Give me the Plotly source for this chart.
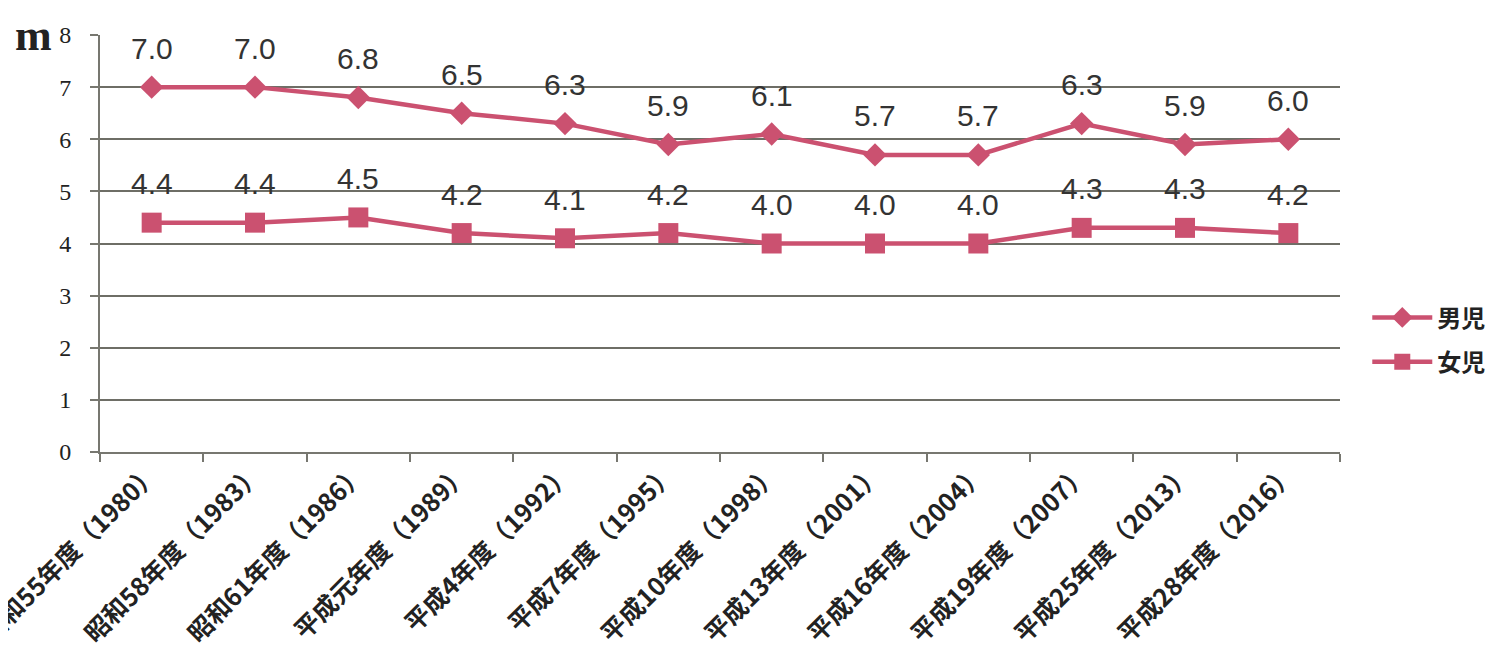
import plotly.graph_objects as go

categories = ["昭和55年度（1980）", "昭和58年度（1983）", "昭和61年度（1986）", "平成元年度（1989）",
              "平成4年度（1992）", "平成7年度（1995）", "平成10年度（1998）", "平成13年度（2001）",
              "平成16年度（2004）", "平成19年度（2007）", "平成25年度（2013）", "平成28年度（2016）"]
boys = [7.0, 7.0, 6.8, 6.5, 6.3, 5.9, 6.1, 5.7, 5.7, 6.3, 5.9, 6.0]
girls = [4.4, 4.4, 4.5, 4.2, 4.1, 4.2, 4.0, 4.0, 4.0, 4.3, 4.3, 4.2]
y_ticks = [0, 1, 2, 3, 4, 5, 6, 7, 8]

color = "#cb5170"
sans = "Noto Sans CJK JP"

fig = go.Figure()
fig.add_trace(go.Scatter(x=categories, y=boys, name="男児", mode="lines+markers",
                         legendgroup="a",
                         line=dict(color=color, width=4.5),
                         marker=dict(symbol="diamond", size=18, color=color)))
fig.add_trace(go.Scatter(x=categories, y=girls, name="女児", mode="lines+markers",
                         legendgroup="b",
                         line=dict(color=color, width=4.5),
                         marker=dict(symbol="square", size=20, color=color)))

for series in (boys, girls):
    for c, v in zip(categories, series):
        fig.add_annotation(x=c, y=v, text=f"{v:.1f}", showarrow=False, yshift=39,
                           font=dict(family="Liberation Sans", size=30, color="#333333"))

fig.add_annotation(xref="paper", yref="paper", x=-0.054, y=1.062, xanchor="center", yanchor="top",
                   text="<b>m</b>", showarrow=False,
                   font=dict(family="Liberation Serif", size=44, color="#222222"))

fig.update_layout(
    width=1497, height=652,
    margin=dict(l=92, r=165, t=27, b=208),
    paper_bgcolor="white", plot_bgcolor="white",
    showlegend=True,
    legend=dict(x=1.022, y=0.269, xanchor="left", yanchor="middle",
                font=dict(family=sans, size=24, color="#222222", weight="bold"),
                bgcolor="rgba(0,0,0,0)", tracegroupgap=10, traceorder="grouped", itemwidth=60),
    xaxis=dict(type="category", range=[-0.5, 11.5], showgrid=False, automargin=False,
               showline=True, linecolor="#777770", linewidth=2,
               ticks="outside", tickson="boundaries", ticklen=8, tickcolor="#777770", tickwidth=2,
               ticklabelstandoff=-5,
               tickangle=-45, tickfont=dict(family=sans, size=25, color="#222222", weight=600)),
    yaxis=dict(range=[0, 8], tickvals=y_ticks, showgrid=True, gridcolor="#6e6e66", gridwidth=2,
               showline=True, linecolor="#777770", linewidth=2, zeroline=False, automargin=False,
               ticks="outside", ticklen=8, tickcolor="#777770", tickwidth=2, ticklabelstandoff=14,
               tickfont=dict(family="Liberation Serif", size=24, color="#222222")),
)

fig.write_html("out.html")
